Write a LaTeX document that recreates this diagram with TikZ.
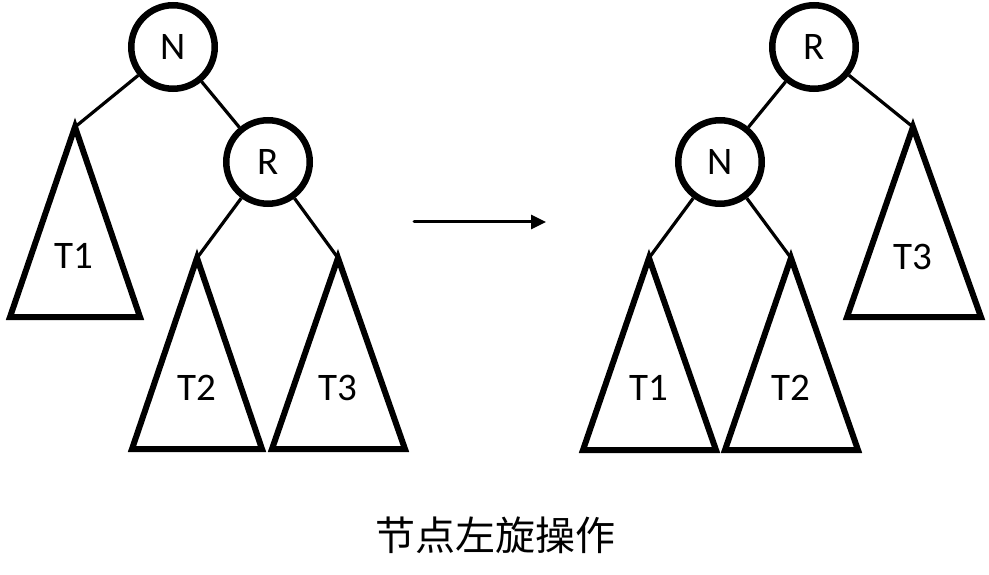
\documentclass[tikz,border=0pt]{standalone}
\usepackage{fontspec}
\setmainfont{Carlito}
\newfontfamily\cjk{Noto Sans CJK SC}
\usetikzlibrary{arrows.meta}
\tikzstyle{knot} = [circle, draw, line width=6.5pt, minimum size=83.5pt, inner sep=0pt, font=\fontsize{39}{40}\selectfont]
\tikzstyle{edge} = [line width=3.2pt]
\tikzstyle{tri} = [line width=6pt, line join=miter]
\tikzstyle{lab} = [font=\fontsize{39}{40}\selectfont]
\tikzstyle{arrow} = [line width=3pt, line cap=round, -{Triangle[length=15pt,width=14pt]}]

\begin{document}
\begin{tikzpicture}[x=1pt,y=-1pt]
        \useasboundingbox (0,0) rectangle (989,575);
        % before rotation
        \node [knot] at (173,47) (n) {N};
        \node [knot] at (268,162) (r) {R};
        \coordinate (a1) at (75,127);
        \coordinate (a2) at (197,258);
        \coordinate (a3) at (338,258);
        \draw [tri] (a1) -- ++(-65,190) -- ++(130,0) -- cycle;
        \draw [tri] (a2) -- ++(-65,191) -- ++(130,0) -- cycle;
        \draw [tri] (a3) -- ++(-66,191) -- ++(133,0) -- cycle;
        \node [lab] at (74,256) (t1) {T1};
        \node [lab] at (197,388) (t2) {T2};
        \node [lab] at (338,388) (t3) {T3};
        \draw [edge] (n) -- (a1);
        \draw [edge] (n) -- (r);
        \draw [edge] (r) -- (a2);
        \draw [edge] (r) -- (a3);
        % arrow
        \coordinate (p) at (414,222);
        \coordinate (q) at (546,222);
        \draw [arrow] (p) -- (q);
        % after rotation
        \node [knot] at (814,47) (rr) {R};
        \node [knot] at (720,162) (nn) {N};
        \coordinate (b1) at (649,258);
        \coordinate (b2) at (791,258);
        \coordinate (b3) at (913,127);
        \draw [tri] (b1) -- ++(-66,192) -- ++(133,0) -- cycle;
        \draw [tri] (b2) -- ++(-66,192) -- ++(133,0) -- cycle;
        \draw [tri] (b3) -- ++(-66,190) -- ++(134,0) -- cycle;
        \node [lab] at (649,388) (s1) {T1};
        \node [lab] at (791,388) (s2) {T2};
        \node [lab] at (913,257) (s3) {T3};
        \draw [edge] (rr) -- (nn);
        \draw [edge] (rr) -- (b3);
        \draw [edge] (nn) -- (b1);
        \draw [edge] (nn) -- (b2);
        \node [font=\cjk\fontsize{40}{42}\selectfont] at (495,535) (cap) {节点左旋操作};
\end{tikzpicture}
\end{document}
